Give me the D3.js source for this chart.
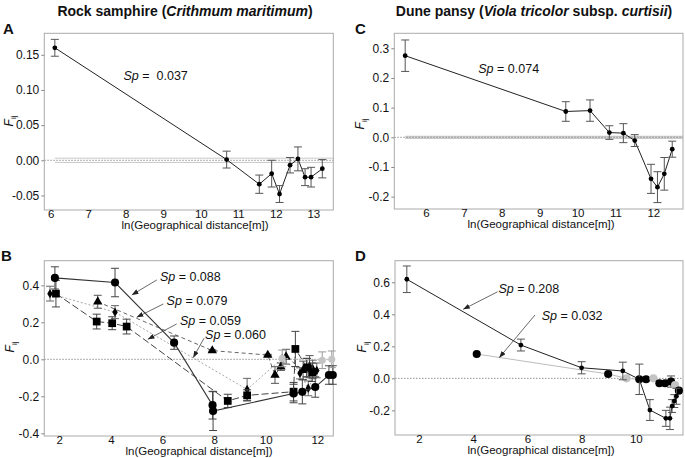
<!DOCTYPE html>
<html><head><meta charset="utf-8">
<script src="https://cdn.jsdelivr.net/npm/d3@7"></script>
<style>
body{margin:0;background:#fff;}
svg{display:block;font-family:"Liberation Sans",Arial,Helvetica,sans-serif;}
</style></head><body>
<svg id="chart" width="685" height="458"></svg>
<script>
// ---------------- data ----------------
// Panel A: Rock samphire, one series
const A_x   = [6.11, 10.69, 11.56, 11.89, 12.10, 12.38, 12.59, 12.78, 12.94, 13.24];
const A_y   = [0.160, 0.001, -0.034, -0.019, -0.048, -0.007, 0.002, -0.024, -0.024, -0.012];
const A_err = [0.012, 0.012, 0.013, 0.019, 0.012, 0.011, 0.017, 0.012, 0.014, 0.013];
const A_xticks = [6, 7, 8, 9, 10, 11, 12, 13];
const A_yticks = [-0.05, 0, 0.05, 0.10, 0.15];

// Panel C: Dune pansy, one series
const C_x   = [5.45, 9.69, 10.33, 10.84, 11.21, 11.51, 11.94, 12.11, 12.29, 12.50];
const C_y   = [0.275, 0.087, 0.090, 0.016, 0.014, -0.011, -0.140, -0.168, -0.123, -0.040];
const C_err = [0.053, 0.033, 0.036, 0.023, 0.032, 0.020, 0.049, 0.052, 0.055, 0.027];
const C_xticks = [6, 7, 8, 9, 10, 11, 12];
const C_yticks = [-0.2, -0.1, 0, 0.1, 0.2, 0.3];

// Panel B: Rock samphire populations
const B1_x = [1.83, 4.16, 6.45, 7.94, 7.96, 11.08, 11.42, 11.92, 12.45, 12.60];
const B1_y = [0.440, 0.415, 0.090, -0.248, -0.280, -0.185, -0.176, -0.150, -0.085, -0.085];
const B1_e = [0.060, 0.077, 0.036, 0.075, 0.105, 0.050, 0.065, 0.055, 0.050, 0.050];
const B2_x = [1.87, 3.45, 4.05, 4.61, 8.53, 9.28, 11.08, 11.15, 11.60, 11.80];
const B2_y = [0.355, 0.204, 0.195, 0.177, -0.225, -0.195, -0.175, 0.056, -0.045, -0.070];
const B2_e = [0.072, 0.040, 0.035, 0.040, 0.036, 0.030, 0.050, 0.095, 0.050, 0.050];
const B3_x = [3.49, 7.93, 10.08, 10.36, 10.59, 10.79, 11.45, 11.58, 11.70, 11.82];
const B3_y = [0.311, 0.047, 0.023, -0.085, -0.040, 0.014, -0.060, -0.045, -0.040, -0.055];
const B3_e = [0.035, 0.004, 0.004, 0.045, 0.020, 0.040, 0.050, 0.050, 0.060, 0.050];
const B4_x = [1.64, 4.16, 9.28, 10.64, 11.33, 11.65, 11.98];
const B4_y = [0.355, 0.255, -0.163, 0.005, -0.076, -0.157, -0.060];
const B4_e = [0.040, 0.035, 0.060, 0.000, 0.030, 0.040, 0.040];
const B5_x = [10.64, 12.19, 12.56];
const B5_y = [0.005, -0.005, 0.000];
const B5_e = [0.045, 0.045, 0.045];
const B_xticks = [2, 4, 6, 8, 10, 12];
const B_yticks = [-0.4, -0.2, 0, 0.2, 0.4];
const B_sp = ["0.088", "0.079", "0.059", "0.060"];

// Panel D: Dune pansy populations
const D1_x = [1.55, 5.76, 8.00, 9.52, 10.13, 10.52, 11.11, 11.26, 11.34, 11.42, 11.50];
const D1_y = [0.619, 0.208, 0.066, 0.046, -0.006, -0.198, -0.250, -0.250, -0.173, -0.142, -0.112];
const D1_e = [0.083, 0.037, 0.038, 0.055, 0.095, 0.065, 0.050, 0.070, 0.040, 0.040, 0.050];
const D2_x = [4.13, 8.98, 9.66, 10.13, 10.38, 10.65, 10.87, 11.08, 11.30, 11.45, 11.59];
const D2_y = [0.152, 0.027, 0.000, -0.006, -0.006, 0.000, -0.031, -0.031, -0.020, -0.042, -0.077];
const D2_e = [0, 0, 0, 0, 0, 0, 0, 0, 0.035, 0, 0];
const D2_tone = ["k", "k", "g", "k", "k", "g", "k", "k", "k", "g", "k"];
const D_xticks = [2, 4, 6, 8, 10];
const D_yticks = [-0.2, 0, 0.2, 0.4, 0.6];
const D_sp = ["0.208", "0.032"];

// ---------------- drawing ----------------
const svg = d3.select("#chart");
svg.append("rect").attr("width", 685).attr("height", 458).attr("fill", "#fff");
const defs = svg.append("defs");
defs.append("marker").attr("id", "ah").attr("viewBox", "0 0 8 6")
  .attr("refX", 8).attr("refY", 3).attr("markerWidth", 7).attr("markerHeight", 5)
  .attr("markerUnits", "userSpaceOnUse").attr("orient", "auto")
  .append("path").attr("d", "M0,0L8,3L0,6Z").attr("fill", "#222");

const zip = (xs, ys, es) => xs.map((v, i) => ({x: v, y: ys[i], e: es ? es[i] : 0, i}));

function panel(c) {
  const x = d3.scaleLinear().domain(c.xd).range([c.l, c.r]);
  const y = d3.scaleLinear().domain(c.yd).range([c.b, c.t]);
  const g = svg.append("g");

  if (c.band) {
    [c.band, -c.band].forEach(v => {
      g.append("line").attr("x1", x(c.bandFrom)).attr("x2", c.r)
        .attr("y1", y(v)).attr("y2", y(v))
        .attr("stroke", "#c8c8c8").attr("stroke-width", c.bandW || 1);
    });
  }
  g.append("line").attr("x1", c.l).attr("x2", c.r).attr("y1", y(0)).attr("y2", y(0))
    .attr("stroke", "#777").attr("stroke-width", 0.8).attr("stroke-dasharray", "1.5,1.5");

  g.append("rect").attr("x", c.l).attr("y", c.t).attr("width", c.r - c.l).attr("height", c.b - c.t)
    .attr("fill", "none").attr("stroke", "#aaa").attr("stroke-width", 1);

  const ya = g.append("g").attr("transform", `translate(${c.l},0)`)
    .call(d3.axisLeft(y).tickValues(c.yt).tickFormat(d3.format(c.yf)).tickSize(3).tickPadding(2));
  ya.select(".domain").remove();
  ya.selectAll(".tick line").attr("stroke", "#888");
  ya.selectAll("text").attr("font-size", 12).attr("fill", "#111")
    .attr("font-family", "Liberation Sans, Arial, sans-serif")
    .text(d => d3.format(c.yf)(d).replace("−", "-"));

  const xa = g.append("g").attr("transform", `translate(0,${c.b})`)
    .call(d3.axisBottom(x).tickValues(c.xt).tickFormat(d3.format("d")).tickSize(0).tickPadding(0));
  xa.select(".domain").remove();
  xa.selectAll("text").attr("font-size", 11.5).attr("fill", "#111")
    .attr("font-family", "Liberation Sans, Arial, sans-serif");

  g.append("text").attr("x", c.xtx).attr("y", c.b + 18.5).attr("text-anchor", "middle")
    .attr("font-size", 11.5).attr("fill", "#111").text("ln(Geographical distance[m])");
  const yt = g.append("text").attr("transform", `translate(${c.ytx},${c.yty}) rotate(-90)`)
    .attr("text-anchor", "middle").attr("font-size", 12).attr("fill", "#111");
  yt.append("tspan").attr("font-style", "italic").text("F");
  yt.append("tspan").attr("font-size", 8).attr("dy", 3).text("ij");

  svg.append("text").attr("x", c.lx).attr("y", c.ly).attr("font-size", 15)
    .attr("font-weight", "bold").attr("fill", "#111").text(c.letter);

  c.x = x; c.y = y; c.g = g;
  return c;
}

function series(p, data, s) {
  const {x, y, g} = p;
  const line = d3.line().x(d => x(d.x)).y(d => y(d.y));
  g.append("path").attr("d", line(data)).attr("fill", "none")
    .attr("stroke", s.line).attr("stroke-width", s.lw || 1)
    .attr("stroke-dasharray", s.dash || null);
  const eb = g.append("g").attr("stroke", s.ecol || "#555").attr("stroke-width", 1);
  data.filter(d => d.e > 0).forEach(d => {
    const cx = x(d.x), y1 = y(d.y + d.e), y2 = y(d.y - d.e);
    eb.append("line").attr("x1", cx).attr("x2", cx).attr("y1", y1).attr("y2", y2);
    eb.append("line").attr("x1", cx - 4).attr("x2", cx + 4).attr("y1", y1).attr("y2", y1);
    eb.append("line").attr("x1", cx - 4).attr("x2", cx + 4).attr("y1", y2).attr("y2", y2);
  });
  const sym = d3.symbol().type(s.sym).size(s.size);
  g.append("g").selectAll("path").data(data).join("path")
    .attr("transform", d => `translate(${x(d.x)},${y(d.y)})`)
    .attr("d", sym)
    .attr("fill", d => s.fillFn ? s.fillFn(d) : s.fill);
}

function spText(p, xv, yv, val, sep) {
  const t = p.g.append("text").attr("x", p.x(xv)).attr("y", p.y(yv)).attr("dy", "0.35em")
    .attr("font-size", 12.5).attr("fill", "#111");
  t.append("tspan").attr("font-style", "italic").text("Sp");
  t.append("tspan").attr("xml:space", "preserve").text(sep + val);
}
function arrow(p, x1, y1, x2, y2) {
  p.g.append("line").attr("x1", p.x(x1)).attr("y1", p.y(y1)).attr("x2", p.x(x2)).attr("y2", p.y(y2))
    .attr("stroke", "#444").attr("stroke-width", 0.8).attr("marker-end", "url(#ah)");
}

const t1 = svg.append("text").attr("x", 185).attr("y", 16).attr("text-anchor", "middle")
  .attr("font-size", 14).attr("font-weight", "bold").attr("fill", "#111");
t1.append("tspan").text("Rock samphire (");
t1.append("tspan").attr("font-style", "italic").text("Crithmum maritimum");
t1.append("tspan").text(")");
const t2 = svg.append("text").attr("x", 534).attr("y", 16).attr("text-anchor", "middle")
  .attr("font-size", 14).attr("font-weight", "bold").attr("fill", "#111");
t2.append("tspan").text("Dune pansy (");
t2.append("tspan").attr("font-style", "italic").text("Viola tricolor");
t2.append("tspan").text(" subsp. ");
t2.append("tspan").attr("font-style", "italic").text("curtisii");
t2.append("tspan").text(")");

// Panel A
const pA = panel({l: 44.3, r: 333.3, t: 33.3, b: 210, xd: [5.829, 13.533], yd: [-0.0707, 0.1806],
  xt: A_xticks, yt: A_yticks, yf: ".2f", band: 0.003, bandFrom: A_x[0],
  xtx: 195, ytx: 13, yty: 121, letter: "A", lx: 3, ly: 34});
series(pA, zip(A_x, A_y, A_err), {line: "#222", sym: d3.symbolCircle, size: 18, fill: "#000"});
spText(pA, 7.94, 0.121, "0.037", " =  ");

// Panel C
const pC = panel({l: 394.3, r: 683, t: 33.3, b: 209, xd: [5.163, 12.784], yd: [-0.2416, 0.3505],
  xt: C_xticks, yt: C_yticks, yf: ".1f", band: 0.003, bandW: 1.5, bandFrom: C_x[0],
  xtx: 541, ytx: 364, yty: 124, letter: "C", lx: 355, ly: 34});
series(pC, zip(C_x, C_y, C_err), {line: "#222", sym: d3.symbolCircle, size: 18, fill: "#000"});
spText(pC, 7.38, 0.2325, "0.074", " = ");

// Panel B
const pB = panel({l: 44.3, r: 333.3, t: 260.7, b: 436, xd: [1.419, 12.62], yd: [-0.4146, 0.533],
  xt: B_xticks, yt: B_yticks, yf: ".1f",
  xtx: 199, ytx: 14, yty: 347, letter: "B", lx: 1, ly: 261});
series(pB, zip(B4_x, B4_y, B4_e), {line: "#a8a8a8", dash: "2,2", sym: d3.symbolDiamond, size: 26, fill: "#000", ecol: "#666"});
series(pB, zip(B3_x, B3_y, B3_e), {line: "#666", dash: "4,3", sym: d3.symbolTriangle, size: 38, fill: "#000", ecol: "#555"});
series(pB, zip(B2_x, B2_y, B2_e), {line: "#444", dash: "7,3", sym: d3.symbolSquare, size: 60, fill: "#000", ecol: "#444"});
series(pB, zip(B1_x, B1_y, B1_e), {line: "#333", lw: 1.1, sym: d3.symbolCircle, size: 52, fill: "#000", ecol: "#444"});
series(pB, zip(B5_x, B5_y, B5_e), {line: "#cfcfcf", dash: "2,2", sym: d3.symbolCircle, size: 40, fill: "#c4c4c4", ecol: "#999"});
spText(pB, 5.90, 0.446, B_sp[0], " = ");
arrow(pB, 5.78, 0.429, 4.81, 0.348);
spText(pB, 6.16, 0.317, B_sp[1], " = ");
arrow(pB, 6.03, 0.299, 5.00, 0.227);
spText(pB, 6.68, 0.209, B_sp[2], " = ");
arrow(pB, 6.55, 0.191, 5.43, 0.108);
spText(pB, 7.65, 0.131, B_sp[3], " = ");
arrow(pB, 7.61, 0.114, 7.19, 0.009);

// Panel D
const pD = panel({l: 395, r: 683, t: 260.7, b: 435, xd: [1.114, 11.742], yd: [-0.354, 0.735],
  xt: D_xticks, yt: D_yticks, yf: ".1f",
  xtx: 541, ytx: 366, yty: 347, letter: "D", lx: 355, ly: 261});
series(pD, zip(D2_x, D2_y, D2_e), {line: "#bdbdbd", sym: d3.symbolCircle, size: 52,
  fillFn: d => D2_tone[d.i] === "g" ? "#c4c4c4" : "#000", ecol: "#555"});
series(pD, zip(D1_x, D1_y, D1_e), {line: "#222", sym: d3.symbolCircle, size: 18, fill: "#000", ecol: "#555"});
spText(pD, 4.93, 0.5625, D_sp[0], " = ");
arrow(pD, 4.90, 0.541, 3.63, 0.431);
spText(pD, 6.53, 0.389, D_sp[1], " = ");
arrow(pD, 6.28, 0.396, 4.96, 0.129);
</script></body></html>
